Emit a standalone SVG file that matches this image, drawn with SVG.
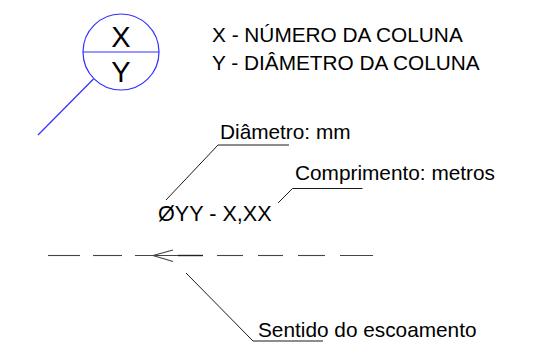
<svg xmlns="http://www.w3.org/2000/svg" width="560" height="356" viewBox="0 0 560 356">
<style>
.t{font-family:"Liberation Sans",Arial,sans-serif;font-size:20.8px;fill:#000}
.big{font-family:"Liberation Sans",Arial,sans-serif;font-size:29px;fill:#000;text-anchor:middle}
.blue{stroke:#3030ff;stroke-width:1.2;fill:none}
.ln{stroke:#000;stroke-width:0.9;fill:none}
.dash{stroke:#444;stroke-width:1.1;fill:none}
</style>
<rect width="560" height="356" fill="#fff"/>
<g id="symbol">
<circle class="blue" cx="121" cy="52" r="38"/>
<line class="blue" x1="83" y1="52" x2="159" y2="52"/>
<text class="big" x="121" y="46.5">X</text>
<text class="big" x="121" y="81.5">Y</text>
</g>
<g id="legend">
<text class="t" x="212" y="42">X - NÚMERO DA COLUNA</text>
<text class="t" x="212" y="70">Y - DIÂMETRO DA COLUNA</text>
</g>
<g id="label">
<text class="t" x="158" y="221" style="font-size:21.6px">ØYY - X,XX</text>
</g>
<g id="diametro">
<text class="t" x="220" y="138.5">Diâmetro: mm</text>
</g>
<g id="comprimento">
<text class="t" x="295" y="180">Comprimento: metros</text>
</g>
<g id="sentido">
<text class="t" x="258" y="337">Sentido do escoamento</text>
</g>
<g id="connectors">
<line class="blue" x1="93.5" y1="79" x2="38" y2="135"/>
<polyline class="ln" points="166,200 218,145 289,145"/>
<polyline class="ln" points="278,203 292.5,188.5 362.5,188.5"/>
<polyline class="ln" points="186,273 253,341 323,341"/>
<g class="dash">
<line x1="48" y1="255.5" x2="80" y2="255.5"/>
<line x1="93" y1="255.5" x2="122" y2="255.5"/>
<line x1="135" y1="255.5" x2="178" y2="255.5"/>
<line x1="178" y1="255.5" x2="203" y2="255.5" stroke="#222" stroke-width="1.4"/>
<line x1="217" y1="255.5" x2="243" y2="255.5"/>
<line x1="258" y1="255.5" x2="283" y2="255.5"/>
<line x1="298" y1="255.5" x2="325" y2="255.5"/>
<line x1="340" y1="255.5" x2="373" y2="255.5"/>
<polyline points="173,250 153,255.5 173,261.5"/>
</g>
</g>
</svg>
